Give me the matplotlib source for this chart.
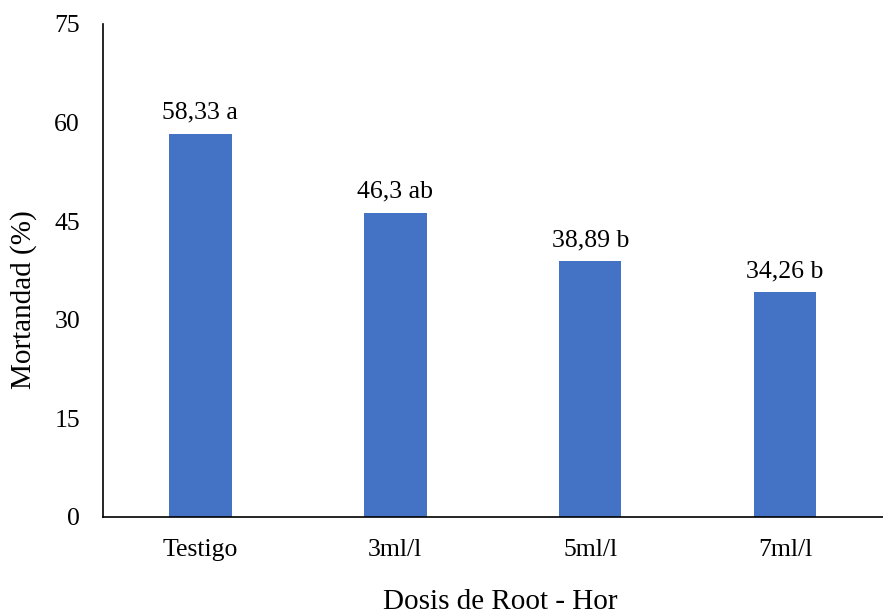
import matplotlib.pyplot as plt

plt.rcParams['font.family'] = ['Liberation Serif', 'DejaVu Serif']

categorias = ["Testigo", "3ml/l", "5ml/l", "7ml/l"]
mortandad = [58.33, 46.3, 38.89, 34.26]
etiquetas = ["58,33 a", "46,3 ab", "38,89 b", "34,26 b"]
y_ticks = [0, 15, 30, 45, 60, 75]

fig = plt.figure(figsize=(8.83, 6.14), dpi=100)
ax = fig.add_axes([0.1166, 0.158, 0.883, 0.803])

x = range(len(categorias))
barras = ax.bar(x, mortandad, width=0.32, color="#4472C4")

for b, txt in zip(barras, etiquetas):
    ax.annotate(txt, (b.get_x() + b.get_width() / 2, b.get_height()),
                xytext=(0, 7), textcoords="offset points",
                ha="center", va="bottom", fontsize=18.5)

ax.set_xlim(-0.5, 3.5)
ax.set_ylim(0, 75)
ax.set_xticks(list(x))
ax.set_xticklabels(categorias)
ax.set_yticks(y_ticks)
ax.tick_params(length=0, labelsize=18.5)
ax.tick_params(axis="x", pad=16)
ax.tick_params(axis="y", pad=16.5)

for s in ["top", "right"]:
    ax.spines[s].set_visible(False)
ax.spines["left"].set_linewidth(1.2)
ax.spines["bottom"].set_linewidth(1.2)

ax.set_ylabel("Mortandad (%)", fontsize=21)
ax.set_xlabel("Dosis de Root - Hor", fontsize=21)
# posicion de los titulos de ejes como en el original
ax.yaxis.set_label_coords(-0.085, 0.44)
ax.xaxis.set_label_coords(0.51, -0.146)

fig.savefig("out.png", dpi=100)
